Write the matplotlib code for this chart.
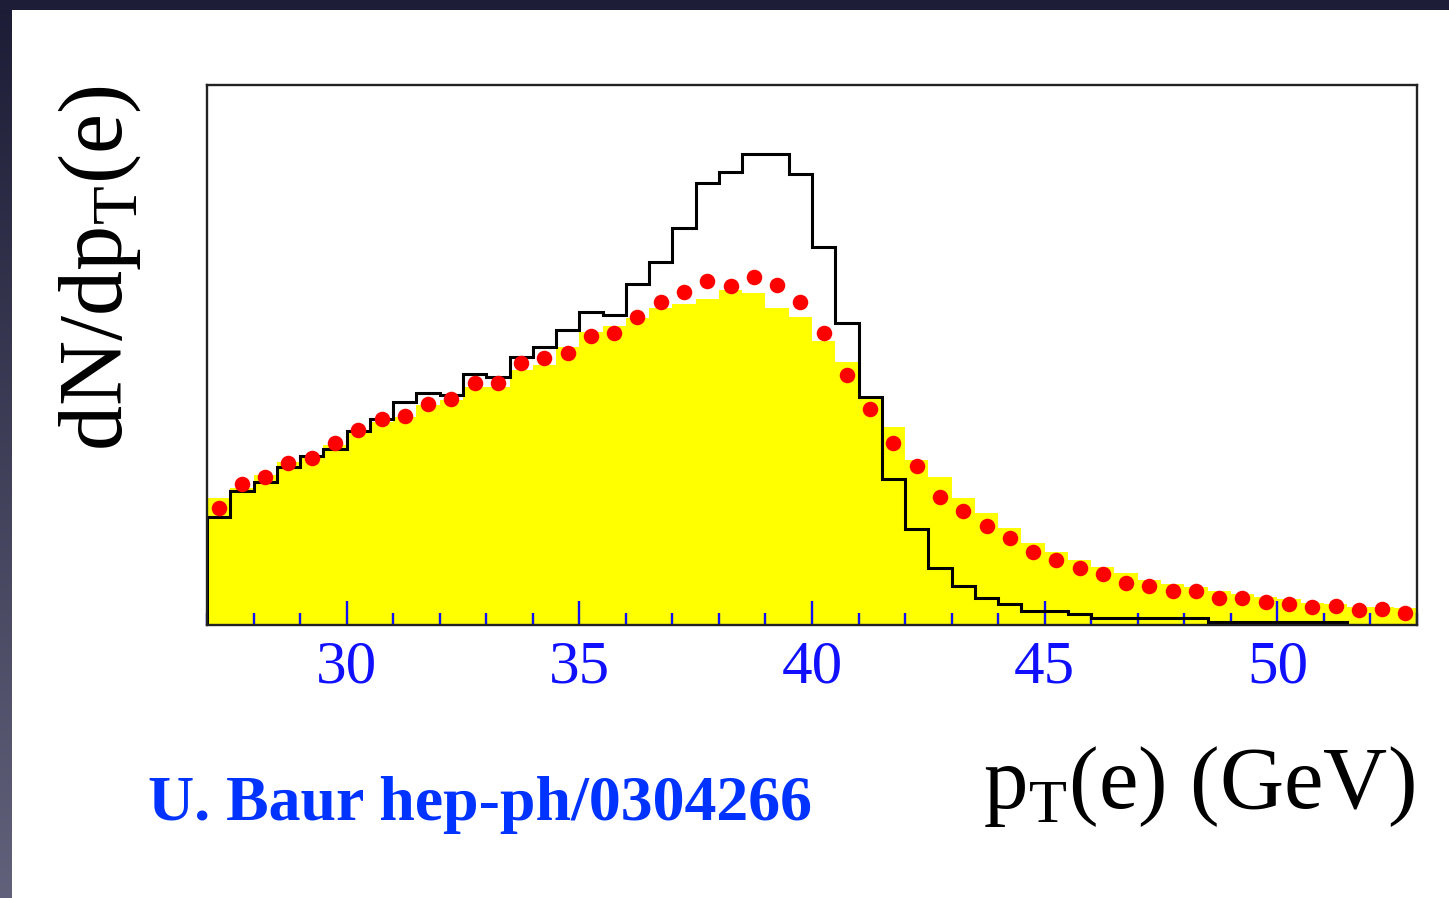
import numpy as np
import matplotlib.pyplot as plt

plt.rcParams['font.family'] = ['Liberation Serif', 'DejaVu Serif']
plt.rcParams['mathtext.fontset'] = 'custom'
plt.rcParams['mathtext.rm'] = 'Liberation Serif'

# electron pT bins, 0.5 GeV wide from 27 to 53 GeV
bin_edges = np.arange(27.0, 53.01, 0.5)
bin_centres = 0.5 * (bin_edges[:-1] + bin_edges[1:])

# yellow filled histogram
yellow_hist = [127, 137, 150, 163, 170, 180, 193, 203, 208, 220, 225, 238, 238,
               255, 260, 278, 293, 299, 307, 317, 321, 326, 335, 332, 317, 308,
               284, 263, 229, 198, 165, 148, 127, 112, 97, 82, 73, 65, 58, 52,
               45, 41, 38, 34, 31, 28, 26, 22, 21, 18, 18, 17]

# black outline histogram
black_hist = [108, 134, 143, 158, 169, 176, 194, 206, 223, 232, 230, 251, 248,
              268, 278, 295, 313, 310, 341, 363, 397, 442, 453, 471, 471, 451,
              378, 302, 228, 146, 96, 57, 39, 27, 21, 14, 14, 11, 7, 7,
              7, 7, 7, 3, 3, 3, 3, 3, 3, 0, 0, 0]

# red points
red_points = [117, 141, 148, 162, 167, 182, 195, 206, 209, 221, 226, 242, 242,
              262, 267, 272, 289, 292, 308, 323, 333, 344, 339, 348, 340, 323,
              292, 250, 216, 182, 159, 128, 114, 99, 87, 73, 65, 57, 51, 42,
              39, 34, 34, 27, 27, 23, 21, 18, 19, 15, 16, 12]

major_ticks = [30, 35, 40, 45, 50]
minor_ticks = list(range(27, 54))

W, H = 1449, 898
fig = plt.figure(figsize=(W / 100, H / 100), dpi=100)
fig.patch.set_facecolor('white')

# dark slide border: top strip and a left strip fading to grey-blue
bg = fig.add_axes([0, 0, 1, 1])
bg.set_xlim(0, W)
bg.set_ylim(H, 0)
bg.axis('off')
grad = np.linspace(0, 1, 256)[:, None]
c_top = np.array([0.11, 0.11, 0.21])
c_bot = np.array([0.38, 0.38, 0.48])
strip = c_top + grad[..., None] * (c_bot - c_top)
bg.imshow(strip, extent=[0, 12, H, 0], aspect='auto', zorder=0)
bg.add_patch(plt.Rectangle((0, 0), W, 10, color='#1d1d38', lw=0, zorder=1))

ax = fig.add_axes([207 / W, 1 - 625 / H, (1417 - 207) / W, (625 - 85) / H])
ax.stairs(yellow_hist, bin_edges, fill=True, color='#ffff00', lw=0, zorder=1)
ax.stairs(black_hist, bin_edges, color='black', lw=2.2, zorder=2)
ax.scatter(bin_centres, red_points, s=125, color='#ff0000', lw=0, zorder=3)

ax.set_xlim(27, 53)
ax.set_ylim(0, 540)
ax.set_yticks([])
ax.set_xticks(major_ticks)
ax.set_xticks(minor_ticks, minor=True)
ax.tick_params(axis='x', which='both', direction='in', colors='#1010ff',
               width=1.7, pad=11, labelsize=44, top=False)
ax.tick_params(axis='x', which='major', length=17)
ax.tick_params(axis='x', which='minor', length=8.5)
for sp in ax.spines.values():
    sp.set_linewidth(1.7)
    sp.set_color('#222222')

fig.text(100 / W, 1 - 85 / H, r'dN/dp$_{\mathrm{T}}$(e)', rotation=90,
         ha='center', va='top', fontsize=65, color='black')
fig.text(1415 / W, 1 - 808 / H, r'p$_{\mathrm{T}}$(e) (GeV)',
         ha='right', va='baseline', fontsize=64, color='black')
fig.text(148 / W, 1 - 820 / H, 'U. Baur hep-ph/0304266', ha='left',
         va='baseline', fontsize=46, fontweight='bold', color='#0033ff')

fig.savefig('out.png', dpi=100)
